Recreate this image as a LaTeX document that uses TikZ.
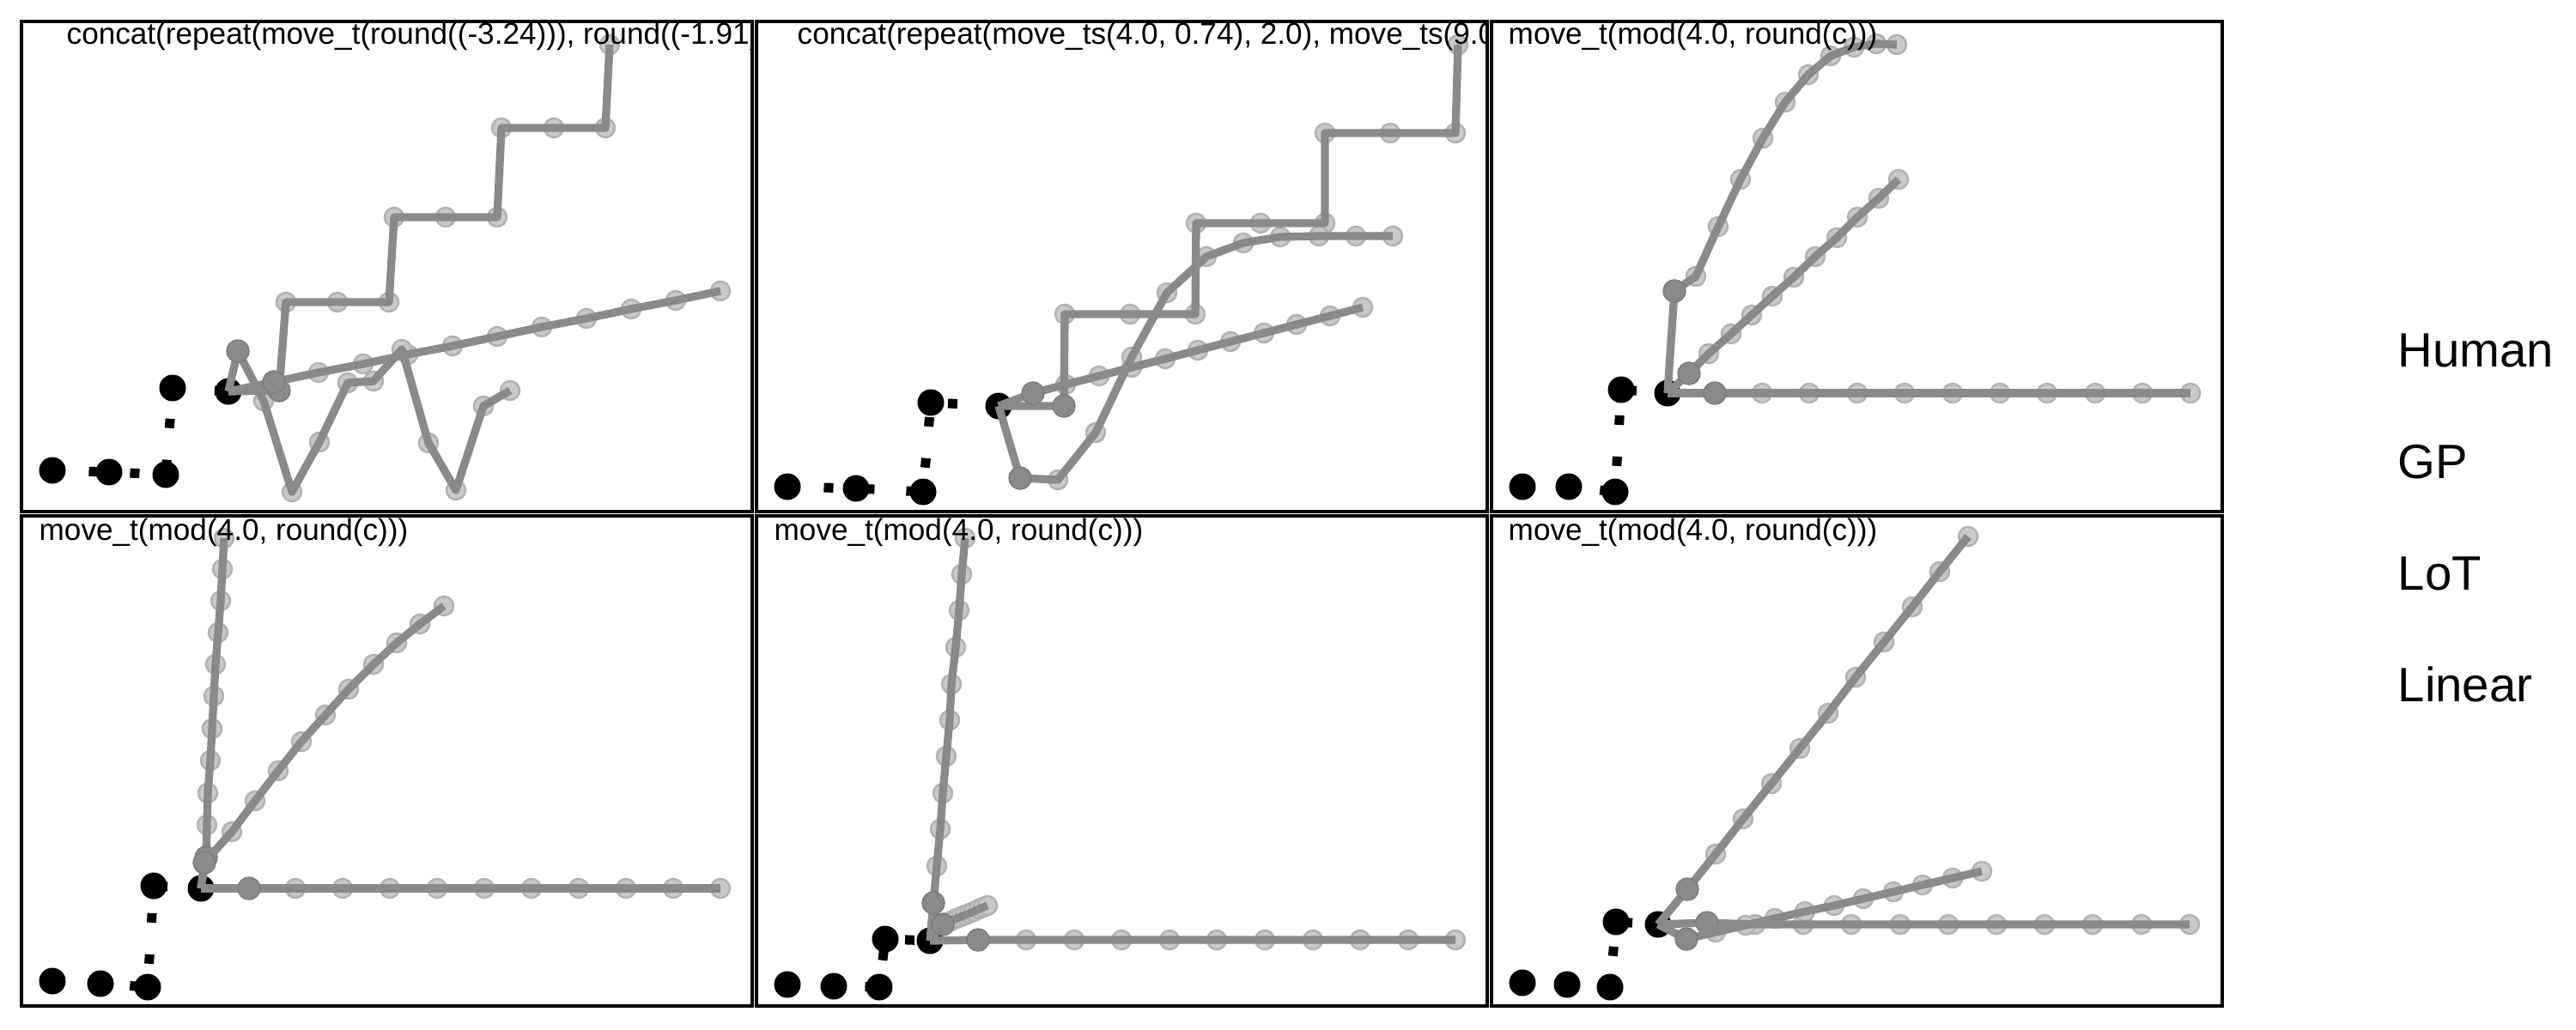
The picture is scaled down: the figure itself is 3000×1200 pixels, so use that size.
\documentclass[tikz,border=0pt]{standalone}
\usepackage{fontspec}
\setmainfont{Liberation Sans}

\definecolor{trajgray}{HTML}{8A8A8A}
\definecolor{ptfill}{HTML}{C9C9C9}
\definecolor{ptedge}{HTML}{B2B2B2}

\pgfdeclarelayer{back}
\pgfdeclarelayer{lights}
\pgfdeclarelayer{front}
\pgfsetlayers{back,lights,main,front}

\tikzset{
  panelbox/.style={draw=black, line width=0.45mm},
  cueline/.style={draw=black, line width=1.1mm, dash pattern=on 1.1mm off 3.7mm, dash phase=0.55mm},
  cuedot/.style={fill=black},
  trajline/.style={draw=trajgray, line width=0.93mm, line join=round},
  lightpt/.style={fill=ptfill, draw=ptedge, line width=0.25mm},
  darkpt/.style={fill=trajgray, draw=trajgray!90!black, line width=0.15mm},
  ptitle/.style={anchor=base west, inner sep=0pt, font=\fontsize{10}{12}\selectfont},
  rowlabel/.style={anchor=base west, inner sep=0pt, font=\fontsize{16}{19}\selectfont}
}

% the five black cue points, joined by the dotted line
\newcommand{\cuepath}[5]{%
  \begin{pgfonlayer}{back}
  \draw[cueline] #1 -- #2 -- #3 -- #4 -- #5;
  \foreach \q in {#1,#2,#3,#4,#5} \fill[cuedot] \q circle[radius=1.55mm];
  \end{pgfonlayer}}

% one continuation: start, first point, the rest
\newcommand{\trajrun}[3]{%
  \begin{pgfonlayer}{lights}
  \foreach \q in {#3} \path[lightpt] \q circle[radius=1.1mm];
  \end{pgfonlayer}
  \draw[trajline] #1 -- #2 \foreach \q in {#3} {-- \q};
  \path[darkpt] #2 circle[radius=1.3mm];}

\begin{document}
\begin{tikzpicture}[x=0.1mm,y=-0.1mm]
\useasboundingbox (0,0) rectangle (3000,1200);

%top left
\cuepath{(61,548)}{(127,550)}{(193,553)}{(201,452)}{(266,456)}
\trajrun{(266,456)}{(325,455)}{(333,352),(393,352),(453,352),(459,253),(519,253),(579,253),(584,149),(645,149),(705,149),(710,52)}
\trajrun{(266,456)}{(319,445)}{(371,434),(423,424),(475,413),(527,403),(579,392),(631,381),(683,371),(735,360),(787,350),(839,339)}
\trajrun{(266,456)}{(277,409)}{(307,467),(340,573),(372,515),(405,446),(435,444),(468,407),(499,516),(531,571),(563,473),(594,455)}

%top middle
\cuepath{(917,567)}{(997,569)}{(1075,573)}{(1084,469)}{(1163,473)}
\trajrun{(1163,473)}{(1239,473)}{(1240,366),(1316,366),(1392,366),(1393,260),(1468,260),(1543,260),(1543,155),(1619,155),(1695,155),(1698,52)}
\trajrun{(1163,473)}{(1203,458)}{(1241,448),(1280,438),(1318,428),(1357,418),(1395,408),(1433,398),(1472,388),(1510,378),(1549,368),(1587,358)}
\trajrun{(1163,473)}{(1188,557)}{(1232,559),(1276,504),(1318,416),(1359,341),(1405,299),(1448,283),(1491,276),(1536,275),(1579,275),(1622,275)}

%top right
\cuepath{(1773,567)}{(1827,567)}{(1881,573)}{(1888,454)}{(1942,458)}
\trajrun{(1942,458)}{(1997,458)}{(2052,458),(2107,458),(2163,458),(2218,458),(2274,458),(2329,458),(2384,458),(2440,458),(2495,458),(2551,458)}
\trajrun{(1942,458)}{(1967,435)}{(1990,412),(2016,389),(2040,367),(2064,345),(2089,323),(2114,299),(2139,277),(2163,253),(2188,231),(2211,209)}
\trajrun{(1942,458)}{(1950,339)}{(1975,322),(2001,264),(2027,209),(2053,161),(2079,119),(2106,87),(2132,65),(2159,55),(2185,51),(2209,52)}

%bottom left
\cuepath{(61,1143)}{(117,1146)}{(172,1150)}{(179,1032)}{(234,1035)}
\trajrun{(234,1035)}{(290,1035)}{(344,1035),(399,1035),(454,1035),(509,1035),(564,1035),(619,1035),(674,1035),(729,1035),(784,1035),(839,1035)}
\trajrun{(234,1035)}{(240,999)}{(241,961),(242,924),(245,886),(247,849),(249,811),(251,774),(254,737),(257,700),(259,663),(261,627)}
\trajrun{(234,1035)}{(238,1005)}{(270,969),(297,933),(324,898),(351,864),(379,833),(406,803),(435,774),(462,749),(489,727),(517,706)}

%bottom middle
\cuepath{(917,1147)}{(971,1149)}{(1024,1150)}{(1031,1094)}{(1083,1096)}
\trajrun{(1083,1096)}{(1139,1095)}{(1195,1095),(1251,1095),(1306,1095),(1362,1095),(1417,1095),(1473,1095),(1529,1095),(1584,1095),(1640,1095),(1695,1095)}
\trajrun{(1083,1096)}{(1087,1052)}{(1091,1009),(1095,966),(1098,924),(1102,881),(1106,839),(1108,797),(1113,754),(1117,711),(1120,669),(1124,627)}
\trajrun{(1083,1096)}{(1098,1077)}{(1103,1075),(1108,1073),(1114,1070),(1119,1068),(1124,1066),(1129,1064),(1134,1062),(1140,1059),(1145,1057),(1150,1055)}

%bottom right
\cuepath{(1773,1145)}{(1825,1147)}{(1875,1150)}{(1882,1074)}{(1931,1077)}
\trajrun{(1931,1077)}{(1988,1075)}{(2044,1077),(2100,1077),(2156,1077),(2213,1077),(2269,1077),(2325,1077),(2381,1077),(2437,1077),(2494,1077),(2550,1077)}
\trajrun{(1931,1077)}{(1964,1094)}{(1998,1086),(2033,1078),(2067,1070),(2102,1062),(2136,1055),(2170,1047),(2205,1039),(2239,1031),(2274,1023),(2308,1015)}
\trajrun{(1931,1077)}{(1965,1036)}{(1998,995),(2030,954),(2063,913),(2096,872),(2129,831),(2161,789),(2194,748),(2227,707),(2259,666),(2292,625)}

\begin{pgfonlayer}{front}
\begin{scope}
\clip (25,25) rectangle (874,596);
\node[ptitle] (title1) at (77,52) {concat(repeat(move\_t(round((-3.24))), round((-1.91)))};
\end{scope}
\begin{scope}
\clip (881,25) rectangle (1730,596);
\node[ptitle] (title2) at (928,52) {concat(repeat(move\_ts(4.0, 0.74), 2.0), move\_ts(9.0))};
\end{scope}
\node[ptitle] (title3) at (1756,52) {move\_t(mod(4.0, round(c)))};
\node[ptitle] (title4) at (45,629) {move\_t(mod(4.0, round(c)))};
\node[ptitle] (title5) at (901,629) {move\_t(mod(4.0, round(c)))};
\node[ptitle] (title6) at (1756,629) {move\_t(mod(4.0, round(c)))};

\draw[panelbox] (25,25) rectangle (876,596);
\draw[panelbox] (881,25) rectangle (1732,596);
\draw[panelbox] (1737,25) rectangle (2588,596);
\draw[panelbox] (25,601) rectangle (876,1172);
\draw[panelbox] (881,601) rectangle (1732,1172);
\draw[panelbox] (1737,601) rectangle (2588,1172);
\end{pgfonlayer}

\node[rowlabel] (human) at (2792,427) {Human};
\node[rowlabel] (gp) at (2792,557) {GP};
\node[rowlabel] (lot) at (2792,687) {LoT};
\node[rowlabel] (linear) at (2792,817) {Linear};
\end{tikzpicture}
\end{document}
